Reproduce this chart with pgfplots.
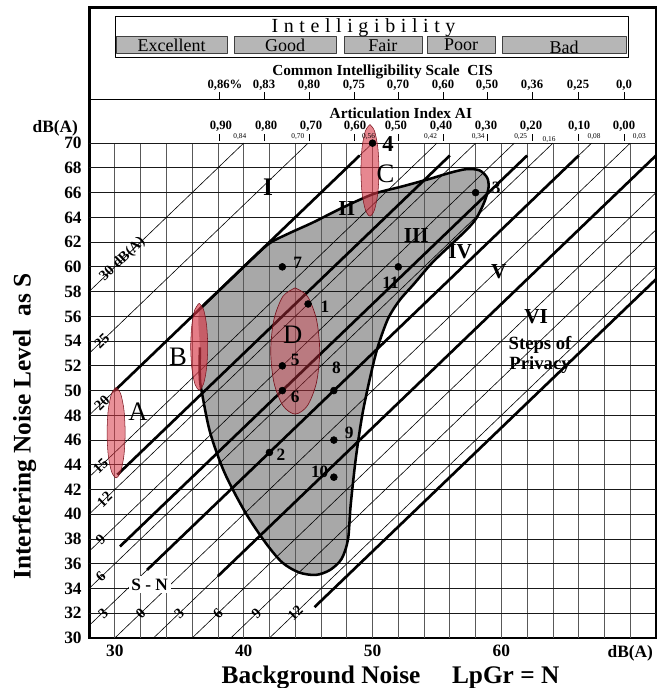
\documentclass[border=0pt]{standalone}
\usepackage{fontspec}
\setmainfont{Liberation Serif}
\usepackage{pgfplots}
\pgfplotsset{compat=1.18}
\newcommand{\fs}[1]{\fontsize{#1}{#1}\selectfont}
\definecolor{blobgray}{RGB}{168,168,168}
\definecolor{boxgray}{RGB}{182,182,182}
\definecolor{ellred}{RGB}{215,55,70}
\definecolor{ellborder}{RGB}{120,20,30}
\begin{document}
\begin{tikzpicture}
\begin{axis}[
  scale only axis, width=425.25pt, height=473.25pt,
  xmin=28, xmax=72, ymin=30, ymax=81,
  axis line style={line width=2.2pt},
  xtick={30,40,50,60,70}, xticklabels={30,40,50,60,dB(A)},
  ytick={30,32,...,70},
  major tick length=0pt,
  tick label style={font=\bfseries\fs{13pt}},
  /pgf/number format/assume math mode=true,
  xticklabel style={yshift=-2pt},
  yticklabel style={xshift=-2pt},
  clip=false,
  every axis plot/.append style={line join=round},
]
% grey region (fill)
\addplot[fill=blobgray, draw=none, smooth, tension=0.5] coordinates {
(36.6,51.0) (36.6,53.5) (36.6,56.6) (38.5,58.5) (40.5,60.5) (42.0,61.9) (43.5,62.7) (45.4,63.6) (47.7,64.8) (50.1,65.9) (52.3,66.5) (54.4,67.1) (56.0,67.6) (57.3,67.9) (58.3,67.8) (58.9,67.2) (59.0,66.4) (58.7,65.3) (58.1,64.0) (57.4,63.1) (56.2,61.9) (54.6,60.3) (53.2,58.6) (52.1,57.3) (51.2,55.8) (50.4,53.5) (49.8,51.0) (49.2,48.0) (48.7,44.5) (48.3,40.7) (48.1,38.0) (47.6,36.4) (46.7,35.5) (45.6,35.1) (44.3,35.3) (43.0,36.1) (41.7,37.7) (40.1,40.2) (38.5,43.4) (37.4,46.6) (36.8,49.6) (36.6,51.0)} --cycle;
% grid
\pgfplotsinvokeforeach{30,32,...,70}{\addplot[black!65, line width=0.55pt] coordinates {(#1,30) (#1,70)};}
\pgfplotsinvokeforeach{32,34,...,70}{\addplot[black!90, line width=0.6pt] coordinates {(28,#1) (72,#1)};}
% thin S-N lines
\addplot[black, line width=0.45pt] coordinates {(28,58) (40,70)};
\addplot[black, line width=0.45pt] coordinates {(28,53) (45,70)};
\addplot[black, line width=0.45pt] coordinates {(28,48) (50,70)};
\addplot[black, line width=0.45pt] coordinates {(28,43) (55,70)};
\addplot[black, line width=0.45pt] coordinates {(28,40) (58,70)};
\addplot[black, line width=0.45pt] coordinates {(28,37) (61,70)};
\addplot[black, line width=0.45pt] coordinates {(28,34) (64,70)};
\addplot[black, line width=0.45pt] coordinates {(28,31) (67,70)};
\addplot[black, line width=0.45pt] coordinates {(30,30) (70,70)};
\addplot[black, line width=0.45pt] coordinates {(33,30) (72,69)};
\addplot[black, line width=0.45pt] coordinates {(36,30) (72,66)};
\addplot[black, line width=0.45pt] coordinates {(39,30) (72,63)};
\addplot[black, line width=0.45pt] coordinates {(42,30) (72,60)};
% grey region outline
\addplot[draw=black, line width=1.9pt, smooth, tension=0.5] coordinates {
(36.6,56.6) (38.5,58.5) (40.5,60.5) (42.0,61.9) (43.5,62.7) (45.4,63.6) (47.7,64.8) (50.1,65.9) (52.3,66.5) (54.4,67.1) (56.0,67.6) (57.3,67.9) (58.3,67.8) (58.9,67.2) (59.0,66.4) (58.7,65.3) (58.1,64.0) (57.4,63.1) (56.2,61.9) (54.6,60.3) (53.2,58.6) (52.1,57.3) (51.2,55.8) (50.4,53.5) (49.8,51.0) (49.2,48.0) (48.7,44.5) (48.3,40.7) (48.1,38.0) (47.6,36.4) (46.7,35.5) (45.6,35.1) (44.3,35.3) (43.0,36.1) (41.7,37.7) (40.1,40.2) (38.5,43.4) (37.4,46.6) (36.8,49.6) (36.6,51.0) (36.6,53.5)};
% thick privacy step lines
\addplot[black, line width=2pt] coordinates {(30,50) (49,69)};
\addplot[black, line width=2pt] coordinates {(30.2,43.2) (56,69)};
\addplot[black, line width=2pt] coordinates {(30.4,37.4) (62,69)};
\addplot[black, line width=2pt] coordinates {(32.5,35.5) (66,69)};
\addplot[black, line width=2pt] coordinates {(38,35) (72,69)};
\addplot[black, line width=2pt] coordinates {(45.5,32.5) (72,59)};
% ellipses A B C D
\addplot[fill=ellred, fill opacity=0.55, draw=ellborder, line width=0.4pt, smooth] coordinates {
(30.10,50.25) (29.75,49.76) (29.49,48.43) (29.40,46.60) (29.49,44.78) (29.75,43.44) (30.10,42.95) (30.45,43.44) (30.71,44.78) (30.80,46.60) (30.71,48.43) (30.45,49.76) (30.10,50.25)};
\addplot[fill=ellred, fill opacity=0.65, draw=ellborder, line width=0.4pt, smooth] coordinates {
(36.55,57.05) (36.22,56.58) (35.98,55.30) (35.89,53.55) (35.98,51.80) (36.22,50.52) (36.55,50.05) (36.88,50.52) (37.12,51.80) (37.21,53.55) (37.12,55.30) (36.88,56.58) (36.55,57.05)};
\addplot[fill=ellred, fill opacity=0.6, draw=ellborder, line width=0.4pt, smooth] coordinates {
(49.80,71.50) (49.45,71.00) (49.19,69.65) (49.10,67.80) (49.19,65.95) (49.45,64.60) (49.80,64.10) (50.15,64.60) (50.41,65.95) (50.50,67.80) (50.41,69.65) (50.15,71.00) (49.80,71.50)};
\addplot[fill=ellred, fill opacity=0.4, draw=ellborder, line width=0.5pt, smooth] coordinates {
(44.00,58.30) (43.05,57.62) (42.35,55.75) (42.10,53.20) (42.35,50.65) (43.05,48.78) (44.00,48.10) (44.95,48.78) (45.65,50.65) (45.90,53.20) (45.65,55.75) (44.95,57.62) (44.00,58.30)};
% measurement points
\addplot[only marks, mark=*, mark size=2.6pt, black] coordinates {
(45,57) (42,45) (58,66) (50,70) (43,52) (43,50) (43,60) (47,50) (47,46) (47,43) (52,60)};
% point labels
\begin{scope}[every node/.style={font=\bfseries\fs{13pt}, inner sep=0pt}]
\node at (axis cs:46.3,56.8) {1};
\node at (axis cs:42.9,44.8) {2};
\node at (axis cs:59.6,66.4) {3};
\node[font=\bfseries\fs{17pt}] at (axis cs:51.2,69.9) {4};
\node at (axis cs:44.0,52.5) {5};
\node at (axis cs:44.0,49.5) {6};
\node at (axis cs:44.2,60.3) {7};
\node at (axis cs:47.2,51.8) {8};
\node at (axis cs:48.2,46.6) {9};
\node at (axis cs:45.9,43.4) {10};
\node at (axis cs:51.4,58.7) {11};
\end{scope}
% ellipse letters
\begin{scope}[every node/.style={font=\fs{20pt}, inner sep=0pt}]
\node at (axis cs:31.8,48.3) {A};
\node at (axis cs:34.9,52.7) {B};
\node at (axis cs:51.0,67.5) {C};
\node at (axis cs:43.8,54.5) {D};
\end{scope}
% privacy steps
\begin{scope}[every node/.style={font=\bfseries\fs{16pt}, inner sep=0pt}]
\node[font=\bfseries\fs{19pt}] at (axis cs:41.9,66.4) {I};
\node at (axis cs:48.0,64.7) {II};
\node at (axis cs:53.4,62.5) {III};
\node at (axis cs:56.8,61.2) {IV};
\node at (axis cs:59.8,59.6) {V};
\node at (axis cs:62.7,56.0) {VI};
\node[font=\bfseries\fs{14pt}] at (axis cs:63.0,53.7) {Steps of};
\node[font=\bfseries\fs{14pt}] at (axis cs:63.0,52.1) {Privacy};
\end{scope}
% S-N labels
\begin{scope}[every node/.style={font=\bfseries\fs{11pt}, inner sep=0pt, rotate=44}]
\node at (axis cs:30.6,60.6) {30 dB(A)};
\node at (axis cs:29.0,54.0) {25};
\node at (axis cs:29.0,49.0) {20};
\node at (axis cs:28.9,43.9) {15};
\node at (axis cs:29.2,41.2) {12};
\node at (axis cs:28.9,38.0) {9};
\node at (axis cs:28.9,35.0) {6};
\node at (axis cs:29.1,32.0) {3};
\node at (axis cs:32.0,32.0) {0};
\node at (axis cs:35.0,32.0) {3};
\node at (axis cs:38.0,32.0) {6};
\node at (axis cs:41.0,32.0) {9};
\node at (axis cs:44.0,32.0) {12};
\end{scope}
\node[fill=white, font=\bfseries\fs{13pt}, inner sep=2pt] at (axis cs:32.7,34.3) {S - N};
% top section
\addplot[black, line width=0.7pt] coordinates {(28,73.56) (72,73.56)};
\addplot[black, line width=0.6pt, fill=white] coordinates {(30.02,76.95) (69.83,76.95) (69.83,80.27) (30.02,80.27)} --cycle;
\addplot[black!75, line width=0.6pt, fill=boxgray] coordinates {(30.10,77.25) (38.71,77.25) (38.71,78.65) (30.10,78.65)} --cycle;
\addplot[black!75, line width=0.6pt, fill=boxgray] coordinates {(39.25,77.25) (47.17,77.25) (47.17,78.65) (39.25,78.65)} --cycle;
\addplot[black!75, line width=0.6pt, fill=boxgray] coordinates {(47.79,77.25) (53.84,77.25) (53.84,78.65) (47.79,78.65)} --cycle;
\addplot[black!75, line width=0.6pt, fill=boxgray] coordinates {(54.23,77.25) (59.51,77.25) (59.51,78.65) (54.23,78.65)} --cycle;
\addplot[black!75, line width=0.6pt, fill=boxgray] coordinates {(60.05,77.25) (69.67,77.25) (69.67,78.65) (60.05,78.65)} --cycle;
\node[font=\fs{15pt}\addfontfeature{LetterSpace=28}] at (axis cs:49.3,79.35) {Intelligibility};
\begin{scope}[every node/.style={font=\fs{13.5pt}, inner sep=0pt}]
\node at (axis cs:34.40,77.92) {Excellent};
\node at (axis cs:43.21,77.92) {Good};
\node at (axis cs:50.81,77.92) {Fair};
\node at (axis cs:56.87,77.92) {Poor};
\node at (axis cs:64.86,77.72) {Bad};
\end{scope}
\node[font=\bfseries\fs{11.5pt}] at (axis cs:50.78,75.74) {Common Intelligibility Scale\ \ CIS};
\node[font=\bfseries\fs{11.5pt}] at (axis cs:52.2,72.43) {Articulation Index AI};
\pgfplotsinvokeforeach{38.09,41.58,45.07,48.56,51.98,55.47,58.89,62.38,65.95,69.52}{
  \addplot[black, line width=0.5pt] coordinates {(#1,73.56) (#1,74.1)};
  \addplot[black, line width=0.5pt] coordinates {(#1,70.2) (#1,70.75)};
}
\begin{scope}[every node/.style={font=\bfseries\fs{9.5pt}, inner sep=0pt}]
\node at (axis cs:38.55,74.69) {0,86\%};
\node at (axis cs:41.58,74.69) {0,83};
\node at (axis cs:45.07,74.69) {0,80};
\node at (axis cs:48.56,74.69) {0,75};
\node at (axis cs:51.98,74.69) {0,70};
\node at (axis cs:55.47,74.69) {0,60};
\node at (axis cs:58.89,74.69) {0,50};
\node at (axis cs:62.38,74.69) {0,36};
\node at (axis cs:65.95,74.69) {0,25};
\node at (axis cs:69.52,74.69) {0,0};
\node at (axis cs:38.24,71.37) {0,90};
\node at (axis cs:41.74,71.37) {0,80};
\node at (axis cs:45.23,71.37) {0,70};
\node at (axis cs:48.64,71.37) {0,60};
\node at (axis cs:51.82,71.37) {0,50};
\node at (axis cs:55.32,71.37) {0,40};
\node at (axis cs:58.81,71.37) {0,30};
\node at (axis cs:62.30,71.37) {0,20};
\node at (axis cs:66.03,71.37) {0,10};
\node at (axis cs:69.52,71.37) {0,00};
\end{scope}
\begin{scope}[every node/.style={font=\fs{5.5pt}, inner sep=0pt}]
\node at (axis cs:39.7,70.5) {0,84};
\node at (axis cs:44.2,70.5) {0,70};
\node at (axis cs:49.7,70.5) {0,56};
\node at (axis cs:54.5,70.5) {0,42};
\node at (axis cs:58.2,70.5) {0,34};
\node at (axis cs:61.5,70.5) {0,25};
\node at (axis cs:63.7,70.3) {0,16};
\node at (axis cs:67.2,70.5) {0,08};
\node at (axis cs:70.7,70.5) {0,03};
\end{scope}
% axis titles
\node[font=\bfseries\fs{13pt}, anchor=east] at (axis cs:27.5,71.2) {dB(A)};
\node[font=\bfseries\fs{19pt}] at (axis cs:51.4,26.8) {Background Noise\quad\ LpGr = N};
\node[font=\bfseries\fs{19pt}, rotate=90] at (axis cs:23.0,47.1) {Interfering Noise Level\ \ as S};
\coordinate (BL) at (axis cs:21.09,25.96);
\coordinate (TR) at (axis cs:73.24,81.57);
\end{axis}
\pgfresetboundingbox
\useasboundingbox (BL) rectangle (TR);
\end{tikzpicture}
\end{document}
